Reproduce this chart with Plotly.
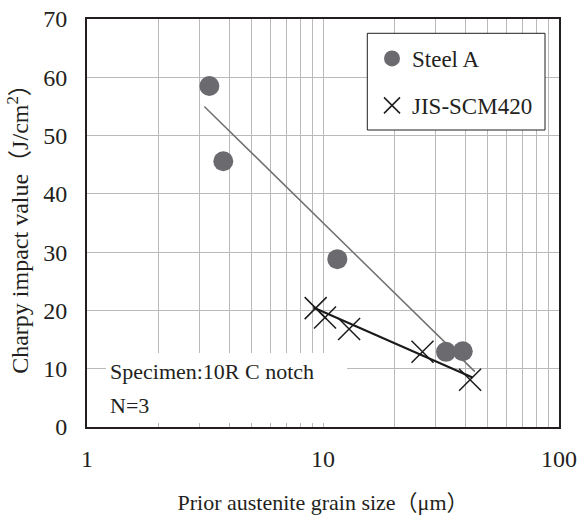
import plotly.graph_objects as go

# ---- data ----
steel_a_x = [3.30, 3.78, 11.5, 33.2, 39.1]
steel_a_y = [58.5, 45.6, 28.8, 12.9, 13.0]

jis_x = [9.31, 10.2, 12.9, 26.4, 42.0]
jis_y = [20.4, 18.8, 16.8, 12.9, 8.1]

trend_a_x = [3.14, 44.0]
trend_a_y = [55.0, 9.5]

trend_jis_x = [9.1, 43.0]
trend_jis_y = [20.5, 8.5]

x_major_ticks = [1, 10, 100]
x_minor_ticks = [2, 3, 4, 5, 6, 7, 8, 9, 20, 30, 40, 50, 60, 70, 80, 90]
y_ticks = [0, 10, 20, 30, 40, 50, 60, 70]

FONT = "'Liberation Serif', 'Noto Sans CJK JP', serif"
TXT = "#231f20"
GRID = "#bababa"

fig = go.Figure()

fig.add_trace(go.Scatter(x=trend_a_x, y=trend_a_y, mode="lines",
                         line=dict(color="#707070", width=1.5),
                         showlegend=False, hoverinfo="skip"))
fig.add_trace(go.Scatter(x=trend_jis_x, y=trend_jis_y, mode="lines",
                         line=dict(color="#1a1a1a", width=2),
                         showlegend=False, hoverinfo="skip"))

fig.add_trace(go.Scatter(x=steel_a_x, y=steel_a_y, mode="markers", name="Steel A",
                         legendgroup="a",
                         marker=dict(symbol="circle", size=20, color="#6a6a6f",
                                     line=dict(width=0))))
fig.add_trace(go.Scatter(x=jis_x, y=jis_y, mode="markers", name="JIS-SCM420",
                         legendgroup="b",
                         marker=dict(symbol="x-thin-open", size=22, color="#1a1a1a",
                                     line=dict(color="#1a1a1a", width=1.5))))

W, H = 578, 518
L, R, T, B = 87, 19, 19, 91
PW, PH = W - L - R, H - T - B


def px(xp):
    return (xp - L) / PW


def py(yp):
    return (H - B - yp) / PH


# legend frame and note box (white backgrounds)
fig.add_shape(type="rect", xref="paper", yref="paper",
              x0=px(367.3), x1=px(545), y0=py(130), y1=py(33.3),
              fillcolor="white", line=dict(color="#231f20", width=1), layer="above")
fig.add_shape(type="rect", xref="paper", yref="paper",
              x0=px(106), x1=px(347), y0=py(423), y1=py(353),
              fillcolor="white", line=dict(width=0), layer="above")

fig.add_annotation(text="Specimen:10R C notch", xref="paper", yref="paper",
                   x=px(108), y=py(371), xanchor="left", yanchor="middle",
                   showarrow=False, font=dict(family=FONT, size=22, color=TXT))
fig.add_annotation(text="N=3", xref="paper", yref="paper",
                   x=px(108), y=py(405), xanchor="left", yanchor="middle",
                   showarrow=False, font=dict(family=FONT, size=22, color=TXT))

fig.update_layout(
    width=W, height=H,
    margin=dict(l=L, r=R, t=T, b=B, pad=0, autoexpand=False),
    paper_bgcolor="white", plot_bgcolor="white",
    font=dict(family=FONT, size=22, color=TXT),
    legend=dict(x=px(372), y=py(37), xanchor="left", yanchor="top",
                bgcolor="rgba(0,0,0,0)", borderwidth=0,
                font=dict(family=FONT, size=23, color=TXT),
                tracegroupgap=14, itemsizing="trace"),
    xaxis=dict(type="log", range=[0, 2], automargin=False,
               tickmode="array", tickvals=x_major_ticks,
               ticktext=[str(v) for v in x_major_ticks],
               showgrid=True, gridcolor=GRID, gridwidth=1.3,
               minor=dict(tickmode="array", tickvals=x_minor_ticks,
                          showgrid=True, gridcolor=GRID, gridwidth=1.3, ticks=""),
               showline=True, linecolor="#231f20", linewidth=2, mirror=True,
               ticks="", ticklabelstandoff=9,
               tickfont=dict(family=FONT, size=24, color=TXT),
               title=dict(text="Prior austenite grain size（μm）",
                          font=dict(family=FONT, size=22, color=TXT), standoff=24),
               zeroline=False),
    yaxis=dict(range=[0, 70], automargin=False, tickmode="array", tickvals=y_ticks,
               showgrid=True, gridcolor=GRID, gridwidth=1.3,
               showline=True, linecolor="#231f20", linewidth=2, mirror=True,
               ticks="", ticklabelstandoff=13,
               tickfont=dict(family=FONT, size=24, color=TXT),
               title=dict(text="Charpy impact value（J/cm<sup>2</sup>）",
                          font=dict(family=FONT, size=24, color=TXT), standoff=8),
               zeroline=False),
)

fig.write_html("out.html",
               config={"displayModeBar": False},
               post_script="document.body.style.margin='0px';"
                           "document.body.style.overflow='hidden';")
